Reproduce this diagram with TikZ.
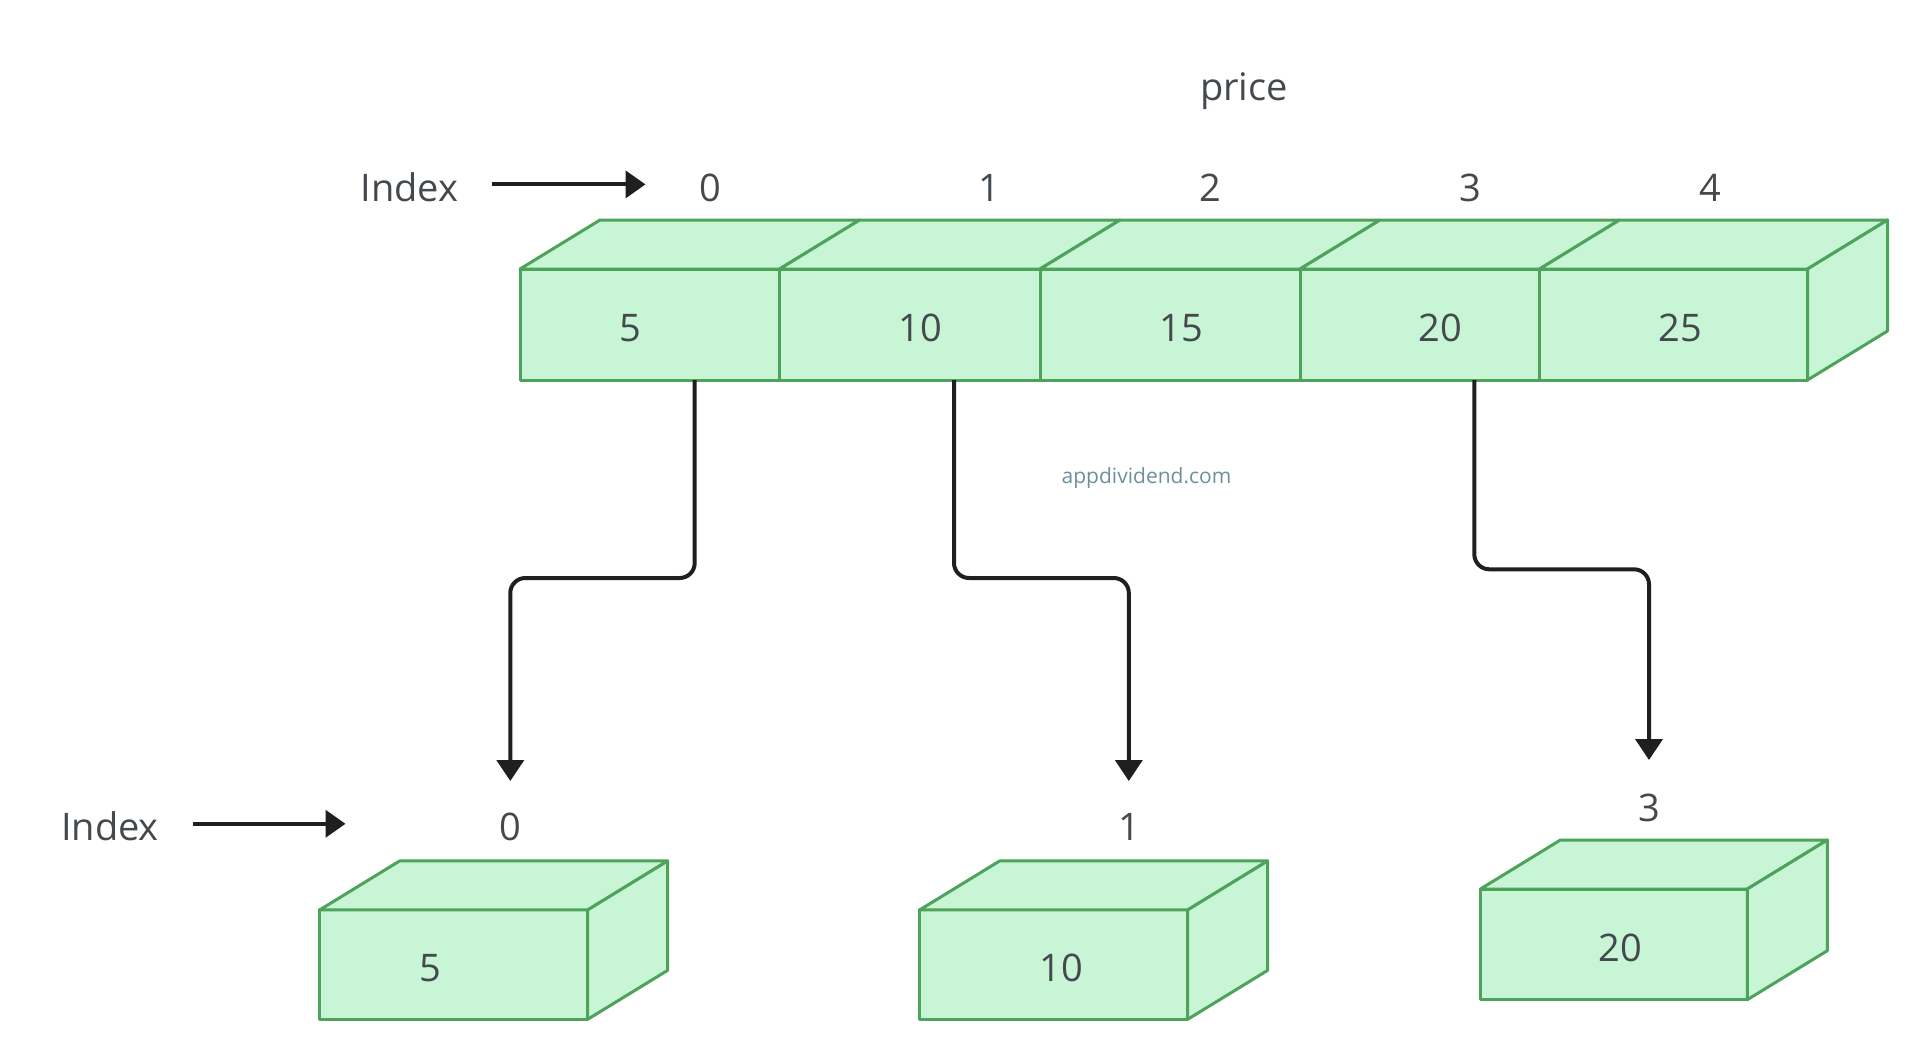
\documentclass[tikz,border=0pt]{standalone}
\usepackage{fontspec}
\setmainfont{Open Sans}
\usetikzlibrary{arrows.meta,calc}
\definecolor{cfill}{HTML}{C8F5D6}
\definecolor{cline}{HTML}{4EA35B}
\definecolor{ctext}{HTML}{44494E}
\definecolor{cwm}{HTML}{6E8F9B}
\begin{document}
\begin{tikzpicture}[x=0.5pt,y=-0.5pt,
  face/.style={fill=cfill, draw=cline, line width=1.5pt, line join=round},
  cell/.style={face, rectangle, inner sep=0pt, outer sep=0pt, anchor=north west},
  txt/.style={text=ctext, font=\fontsize{19}{22}\selectfont, inner sep=0pt, anchor=base},
  wm/.style={text=cwm, font=\fontsize{10.5}{12}\selectfont, inner sep=0pt, anchor=base},
  conn/.style={draw=black!88, line width=2pt, rounded corners=7.5pt, -{Triangle[length=10.5pt,width=13.5pt]}},
  idx/.style={draw=black!88, line width=2pt, -{Triangle[length=10pt,width=13.5pt]}}]
\useasboundingbox (0,0) rectangle (1928,1061);

% ---------- top array ----------
\node[cell, minimum width=129.8pt, minimum height=55.5pt] (c0) at (520,269) {};
\node[cell, minimum width=130.2pt, minimum height=55.5pt] (c1) at (779.6,269) {};
\node[cell, minimum width=130pt, minimum height=55.5pt] (c2) at (1040,269) {};
\node[cell, minimum width=119.75pt, minimum height=55.5pt] (c3) at (1300,269) {};
\node[cell, minimum width=134pt, minimum height=55.5pt] (c4) at (1539.5,269) {};
\foreach \c in {c0,c1,c2,c3,c4}{
  \draw[face] (\c.north west) -- ++(80,-49) -- ($(\c.north east)+(80,-49)$) -- (\c.north east) -- cycle;
}
\draw[face] (c4.north east) -- ++(80,-49) -- ++(0,111) -- (c4.south east) -- cycle;

\node[txt] (v0) at (630,341.5) {5};
\node[txt] (v1) at (920.5,341.5) {10};
\node[txt] (v2) at (1181,341.5) {15};
\node[txt] (v3) at (1440.5,341.5) {20};
\node[txt] (v4) at (1680.5,341.5) {25};

\node[txt] (price) at (1244,100.5) {price};
\node[txt] (idxT) at (409.5,201.4) {Index};
\node[txt] (i0) at (710,201.4) {0};
\node[txt] (i1) at (989.5,201.4) {1};
\node[txt] (i2) at (1210.5,201.4) {2};
\node[txt] (i3) at (1470,201.4) {3};
\node[txt] (i4) at (1710,201.4) {4};
\coordinate (aT0) at (492,184.4);
\coordinate (aT1) at (645.5,184.4);
\draw[idx] (aT0) -- (aT1);

\node[wm] (wm) at (1146.5,483) {appdividend.com};

% ---------- bottom boxes ----------
\node[cell, minimum width=134pt, minimum height=54.7pt] (b0) at (319.7,909.9) {};
\node[cell, minimum width=134pt, minimum height=54.7pt] (b1) at (919.7,909.9) {};
\node[cell, minimum width=133.45pt, minimum height=55.35pt] (b2) at (1480.4,889) {};
\foreach \b in {b0,b1,b2}{
  \draw[face] (\b.north west) -- ++(80,-49) -- ($(\b.north east)+(80,-49)$) -- (\b.north east) -- cycle;
  \draw[face] (\b.north east) -- ++(80,-49) -- ($(\b.south east)+(80,-49)$) -- (\b.south east) -- cycle;
}
\node[txt] (bv0) at (430.8,981) {5};
\node[txt] (bv1) at (1061,981) {10};
\node[txt] (bv2) at (1620.4,961.3) {20};

\node[txt] (idxB) at (110,840.8) {Index};
\node[txt] (j0) at (510.6,840.8) {0};
\node[txt] (j1) at (1129.6,840.8) {1};
\node[txt] (j3) at (1649.5,821) {3};
\coordinate (aB0) at (193,823.8);
\coordinate (aB1) at (345.5,823.8);
\draw[idx] (aB0) -- (aB1);

% ---------- connectors ----------
\coordinate (s0) at (694.7,0);
\coordinate (s1) at (954,0);
\coordinate (s2) at (1474.3,0);
\coordinate (t0) at (510.3,781);
\coordinate (t1) at (1128.8,781);
\coordinate (t2) at (1649,760);
\draw[conn] (c0.south -| s0) -- (694.7,578) -- (510.3,578) -- (t0);
\draw[conn] (c1.south -| s1) -- (954,578) -- (1128.8,578) -- (t1);
\draw[conn] (c3.south -| s2) -- (1474.3,569.3) -- (1649,569.3) -- (t2);
\end{tikzpicture}
\end{document}
